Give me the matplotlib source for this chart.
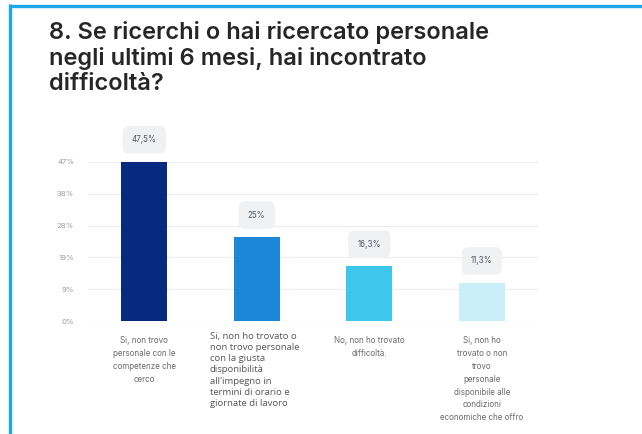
import matplotlib
matplotlib.use('Agg')
import matplotlib.pyplot as plt
from matplotlib.lines import Line2D

# Survey data
categories = [
    "Si, non trovo\npersonale con le\ncompetenze che\ncerco",
    "Si, non ho trovato o\nnon trovo personale\ncon la giusta\ndisponibilità\nall'impegno in\ntermini di orario e\ngiornate di lavoro",
    "No, non ho trovato\ndifficoltà.",
    "Si, non ho\ntrovato o non\ntrovo\npersonale\ndisponibile alle\ncondizioni\neconomiche che offro",
]
values = [47.5, 25.0, 16.3, 11.3]
value_labels = ["47,5%", "25%", "16,3%", "11,3%"]
tick_values = [0, 9.5, 19, 28.5, 38, 47.5]
tick_labels = ["0%", "9%", "19%", "28%", "38%", "47%"]
colors = ['#07297f', '#1c87d6', '#3ec7ed', '#c9eff9']

W, H = 642, 434
fig = plt.figure(figsize=(W / 100, H / 100), dpi=100)
fig.patch.set_facecolor('white')

# frame lines (top and left)
fig.add_artist(Line2D([9 / W, 1], [1 - 5.5 / H, 1 - 5.5 / H], color='#1aa7ec', lw=2.4,
                      transform=fig.transFigure, solid_capstyle='butt'))
fig.add_artist(Line2D([10.5 / W, 10.5 / W], [0, 1 - 4 / H], color='#1aa7ec', lw=2.4,
                      transform=fig.transFigure, solid_capstyle='butt'))

fig.text(49 / W, 1 - 21 / H,
         "8. Se ricerchi o hai ricercato personale\nnegli ultimi 6 mesi, hai incontrato\ndifficoltà?",
         fontsize=17, fontfamily='Inter', fontweight='semibold', color='#262626',
         va='top', ha='left', linespacing=1.16)

ax = fig.add_axes([88 / W, 113 / H, 450 / W, 159 / H])
x = range(len(values))
ax.bar(x, values, width=0.41, color=colors, zorder=3)
ax.set_xlim(-0.5, 3.5)
ax.set_ylim(0, 47.5)
ax.set_yticks(tick_values)
ax.set_yticklabels(tick_labels, fontsize=5.6, color='#9a9a9a', fontfamily='Inter')
ax.tick_params(axis='y', length=0, pad=10)
ax.set_xticks([])
ax.grid(axis='y', color='#ececec', lw=0.8, zorder=0)
for s in ax.spines.values():
    s.set_visible(False)

# value badges above the bars
for i, (v, lab) in enumerate(zip(values, value_labels)):
    ax.annotate(lab, (i, v), xytext=(0, 16), textcoords='offset points',
                ha='center', va='center', fontsize=5.8, color='#4f5866', fontfamily='Inter',
                bbox=dict(boxstyle='round,pad=1.15,rounding_size=0.8', fc='#eff1f2', ec='none'),
                annotation_clip=False)

trans = ax.get_xaxis_transform()
for i, cat in enumerate(categories):
    if i == 1:
        ax.text(i - 0.42, -0.07, cat, transform=trans, ha='left', va='top',
                fontsize=6.8, color='#555555', fontfamily='Open Sans', linespacing=1.3)
    else:
        ax.text(i, -0.095, cat, transform=trans, ha='center', va='top',
                fontsize=5.8, color='#6a6a6a', fontfamily='Inter', linespacing=1.55)

fig.savefig('out.png', dpi=100)
